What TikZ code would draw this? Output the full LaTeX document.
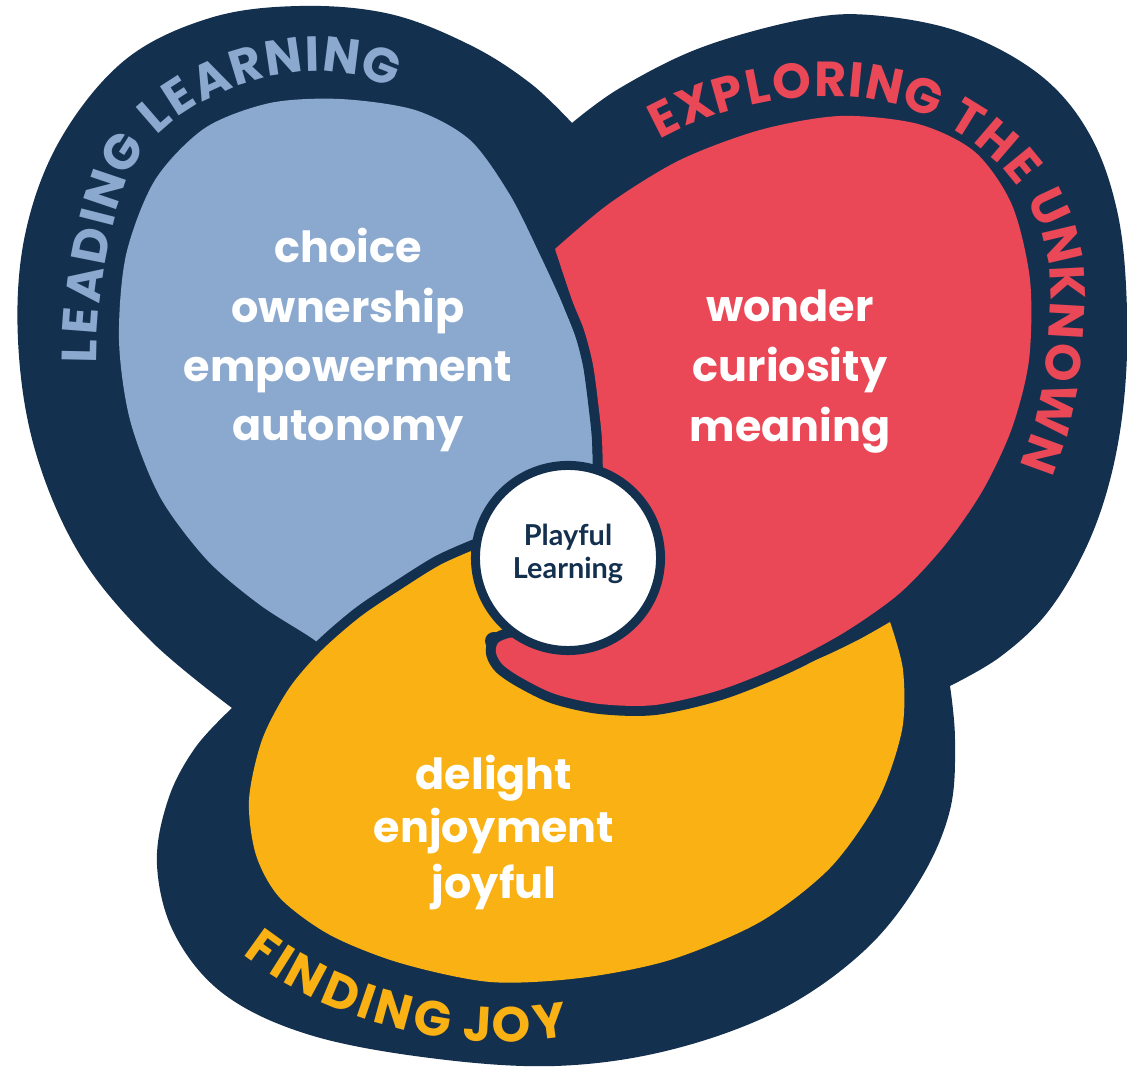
\documentclass[tikz,border=0pt]{standalone}
\usepackage{fontspec}
\setmainfont{Poppins}
\newfontfamily\latof{Lato}
\usetikzlibrary{decorations.markings}
\definecolor{navy}{HTML}{14304F}
\definecolor{lblue}{HTML}{8BA9CE}
\definecolor{cred}{HTML}{EB4857}
\definecolor{cyel}{HTML}{F9B113}
\newcommand\arcfont{\normalfont\bfseries\fontsize{14}{17}\selectfont}
\begin{document}
\begin{tikzpicture}[x=0.01cm, y=0.01cm,
  halo/.style={preaction={draw=navy, line width=0.2cm, line join=round}},
  word/.style={text=white, anchor=base, inner sep=0pt, font=\normalfont\bfseries\fontsize{12.2}{14}\selectfont},
  hubtext/.style={text=navy, anchor=base, inner sep=0pt, font=\latof\bfseries\fontsize{8.2}{9}\selectfont},
  lt/.style={transform shape, anchor=base, yshift=-4.9pt, inner sep=0pt, font=\arcfont},
  ll/.style={lt, text=lblue}, le/.style={lt, text=cred}, lj/.style={lt, text=cyel}]
\useasboundingbox (0,-1068) rectangle (1127,0);
\fill[white] (0,-1068) rectangle (1127,0);
% outer navy shape
\fill[navy] plot[smooth, tension=0.6] coordinates {(232,-708) (150,-640) (80,-555) (35,-450) (18,-340) (25,-235) (60,-140) (125,-60) (210,-18) (300,-6) (390,-14) (470,-45) (530,-83) (572,-123)}
 -- plot[smooth, tension=0.6] coordinates {(572,-123) (620,-88) (700,-48) (800,-20) (870,-15) (960,-32) (1040,-75) (1090,-135) (1118,-215) (1127,-310) (1124,-400) (1110,-480) (1085,-550) (1047,-613) (1000,-657) (950,-686)}
 -- plot[smooth, tension=0.6] coordinates {(950,-686) (955,-740) (950,-810) (920,-880) (865,-950) (780,-1010) (670,-1050) (555,-1066) (430,-1058) (310,-1035) (225,-995) (175,-935) (157,-865) (168,-800) (195,-748) (232,-708)} -- cycle;
% blue
\fill[lblue] plot[smooth] coordinates {(340,-662) (313,-639) (260,-605) (207,-560) (160,-497) (130,-420) (119,-340) (126,-255) (155,-180) (205,-128) (270,-103) (340,-99) (415,-110) (470,-140) (510,-195) (540,-255) (565,-310) (583,-360) (591,-415) (593,-466)} -- (565,-520) -- (480,-565) -- (400,-620) -- cycle;
% yellow
\fill[cyel, halo] plot[smooth] coordinates {(476,-549) (440,-565) (400,-590) (360,-617) (320,-652) (288,-690) (262,-740) (249,-800) (256,-855) (280,-898) (330,-935) (400,-963) (490,-982) (580,-978) (670,-960) (760,-922) (830,-868) (878,-800) (902,-730) (903,-670) (890,-622)}
 -- plot[smooth] coordinates {(890,-622) (860,-639) (825,-656) (790,-670) (770,-677)} -- (700,-650) -- (600,-640) -- (520,-600) -- (478,-560) -- cycle;
\fill[navy] (494,-641) circle[radius=9];
% red
\fill[cred, halo] plot[smooth] coordinates {(555,-249) (610,-203) (680,-160) (760,-130) (840,-116) (918,-124) (975,-152) (1012,-205) (1030,-280) (1029,-360) (1012,-428) (983,-490) (945,-545) (900,-593) (845,-632) (785,-664) (720,-690) (655,-705) (600,-704) (555,-694) (522,-678) (503,-665) (496,-653) (498,-643) (509,-638) (521,-637)} -- (570,-590) -- (603,-478)
 -- plot[smooth] coordinates {(603,-478) (602,-440) (599,-410) (593,-365) (584,-330) (572,-300) (555,-249)} -- cycle;
% hub
\node[circle, fill=white, draw=navy, line width=0.09cm, minimum size=1.85cm, inner sep=0pt] (hub) at (568,-558) {};
\node[hubtext] (play) at (568,-546) {Playful};
\node[hubtext] (learn) at (568,-579) {Learning};
% words
\node[word] (w1) at (348,-263) {choice};
\node[word] (w2) at (348,-323) {ownership};
\node[word] (w3) at (348,-382) {empowerment};
\node[word] (w4) at (348,-441) {autonomy};
\node[word] (w5) at (790,-322) {wonder};
\node[word] (w6) at (790,-382) {curiosity};
\node[word] (w7) at (790,-442) {meaning};
\node[word] (w8) at (494,-790) {delight};
\node[word] (w9) at (494,-843) {enjoyment};
\node[word] (w10) at (494,-899) {joyful};
% curved titles, letter by letter
\path[decorate, decoration={markings,
  mark=at position 0.027 with {\node[ll] (a1) {L};},
  mark=at position 0.084 with {\node[ll] (a2) {E};},
  mark=at position 0.153 with {\node[ll] (a3) {A};},
  mark=at position 0.228 with {\node[ll] (a4) {D};},
  mark=at position 0.281 with {\node[ll] (a5) {I};},
  mark=at position 0.335 with {\node[ll] (a6) {N};},
  mark=at position 0.413 with {\node[ll] (a7) {G};},
  mark=at position 0.505 with {\node[ll] (a8) {L};},
  mark=at position 0.563 with {\node[ll] (a9) {E};},
  mark=at position 0.631 with {\node[ll] (a10) {A};},
  mark=at position 0.702 with {\node[ll] (a11) {R};},
  mark=at position 0.775 with {\node[ll] (a12) {N};},
  mark=at position 0.829 with {\node[ll] (a13) {I};},
  mark=at position 0.884 with {\node[ll] (a14) {N};},
  mark=at position 0.961 with {\node[ll] (a15) {G};}}]
  (79,-366) .. controls (78,-300) and (95,-190) .. (125,-148) .. controls (165,-80) and (310,-22) .. (400,-75);
\path[decorate, decoration={markings,
  mark=at position 0.022 with {\node[le] (b1) {E};},
  mark=at position 0.069 with {\node[le] (b2) {X};},
  mark=at position 0.117 with {\node[le] (b3) {P};},
  mark=at position 0.159 with {\node[le] (b4) {L};},
  mark=at position 0.207 with {\node[le] (b5) {O};},
  mark=at position 0.260 with {\node[le] (b6) {R};},
  mark=at position 0.295 with {\node[le] (b7) {I};},
  mark=at position 0.334 with {\node[le] (b8) {N};},
  mark=at position 0.390 with {\node[le] (b9) {G};},
  mark=at position 0.458 with {\node[le] (b10) {T};},
  mark=at position 0.508 with {\node[le] (b11) {H};},
  mark=at position 0.558 with {\node[le] (b12) {E};},
  mark=at position 0.625 with {\node[le] (b13) {U};},
  mark=at position 0.680 with {\node[le] (b14) {N};},
  mark=at position 0.733 with {\node[le] (b15) {K};},
  mark=at position 0.785 with {\node[le] (b16) {N};},
  mark=at position 0.842 with {\node[le] (b17) {O};},
  mark=at position 0.907 with {\node[le] (b18) {W};},
  mark=at position 0.972 with {\node[le] (b19) {N};}}]
  (649,-126) .. controls (720,-85) and (840,-60) .. (925,-97) .. controls (1010,-130) and (1070,-200) .. (1068,-300) .. controls (1066,-370) and (1055,-430) .. (1035,-474);
\path[decorate, decoration={markings,
  mark=at position 0.044 with {\node[lj] (c1) {F};},
  mark=at position 0.112 with {\node[lj] (c2) {I};},
  mark=at position 0.195 with {\node[lj] (c3) {N};},
  mark=at position 0.313 with {\node[lj] (c4) {D};},
  mark=at position 0.394 with {\node[lj] (c5) {I};},
  mark=at position 0.477 with {\node[lj] (c6) {N};},
  mark=at position 0.597 with {\node[lj] (c7) {G};},
  mark=at position 0.735 with {\node[lj] (c8) {J};},
  mark=at position 0.836 with {\node[lj] (c9) {O};},
  mark=at position 0.949 with {\node[lj] (c10) {Y};}}]
  (252,-940) .. controls (339,-1008) and (458,-1038) .. (566,-1019);
\end{tikzpicture}
\end{document}
